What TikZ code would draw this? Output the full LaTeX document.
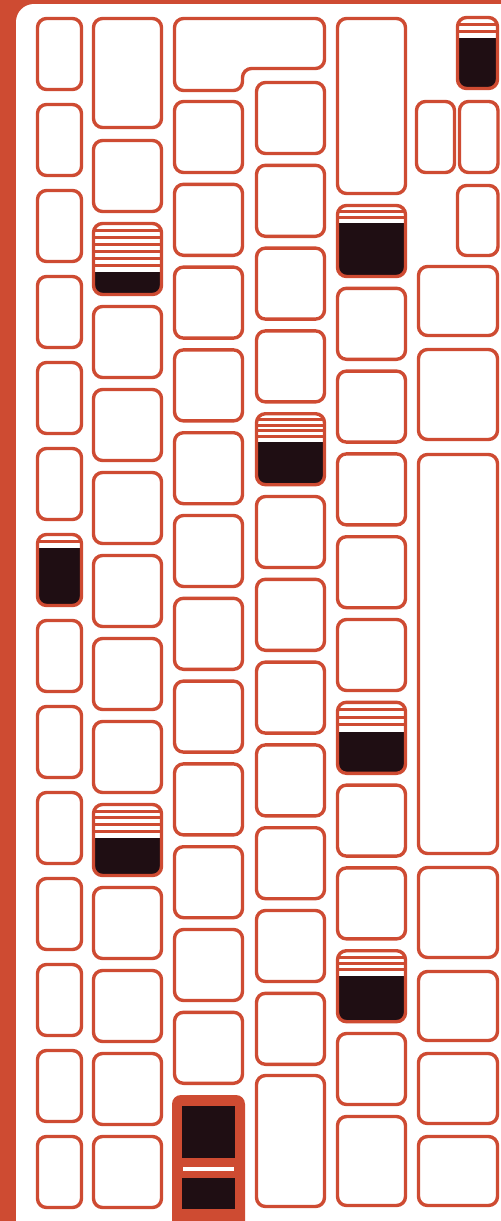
\documentclass[tikz,border=0pt]{standalone}
\usepackage{tikz}

\definecolor{keyorange}{RGB}{206,75,50}
\definecolor{keydark}{RGB}{31,14,19}

\tikzset{
  keycap/.style={draw=keyorange,line width=1.7pt,rounded corners=4.5pt},
  stripe/.style={draw=keyorange,line width=1.5pt}
}

% x1,y1,x2,y2,start of dark part,number of stripes
\newcommand{\darkkey}[6]{%
  \begin{scope}
    \clip[rounded corners=4.5pt] (#1,#2) rectangle (#3,#4);
    \fill[keydark] (#1,#5) rectangle (#3,#4);
    \foreach \k in {1,...,#6}
      \draw[stripe] (#1,{#2+\k*(#5-#2)/(#6+1)}) -- (#3,{#2+\k*(#5-#2)/(#6+1)});
  \end{scope}
  \draw[keycap] (#1,#2) rectangle (#3,#4);
}

\begin{document}
\begin{tikzpicture}[x=0.5pt,y=-0.5pt]
  \useasboundingbox (0,0) rectangle (501,1221);
  \clip (0,0) rectangle (501,1221);
  \fill[keyorange] (0,0) rectangle (501,1221);
  \fill[white,rounded corners=9pt] (16,1260) -- (16,4) -- (540,4) -- (540,1260) -- cycle;

  % column 1
  \foreach \i in {0,...,5,7,8,...,13}
    \draw[keycap] (37.5,{18.5+86*\i}) rectangle (81.5,{89.5+86*\i});
  \darkkey{37.5}{534.5}{81.5}{605.5}{548}{1}

  % column 2
  \draw[keycap] (93.5,18.5) rectangle (161.5,127.5);
  \foreach \i in {0,2,3,...,7,9,10,...,12}
    \draw[keycap] (93.5,{140.5+83*\i}) rectangle (161.5,{211.5+83*\i});
  \darkkey{93.5}{223.5}{161.5}{294.5}{272}{6}
  \darkkey{93.5}{804.5}{161.5}{875.5}{838}{4}

  % column 3
  \draw[keycap] (174.5,18.5) -- (324.5,18.5) -- (324.5,68.5) -- (242.5,68.5)
    -- (242.5,90.5) -- (174.5,90.5) -- cycle;
  \foreach \i in {0,...,11}
    \draw[keycap] (174.5,{101.5+82.8*\i}) rectangle (242.5,{172.5+82.8*\i});
  \fill[keyorange,rounded corners=4.5pt] (172,1240) -- (172,1095) -- (245,1095) -- (245,1240) -- cycle;
  \fill[keydark] (182,1106) rectangle (235,1158);
  \fill[white] (183,1167) rectangle (234,1171);
  \fill[keydark] (182,1178) rectangle (235,1209);

  % column 4
  \foreach \i in {0,...,3,5,6,...,11}
    \draw[keycap] (256.5,{82.5+82.8*\i}) rectangle (324.5,{153.5+82.8*\i});
  \darkkey{256.5}{413.7}{324.5}{484.7}{442}{4}
  \draw[keycap] (256.5,1075.5) rectangle (324.5,1206.5);

  % column 5
  \draw[keycap] (337.5,18.5) rectangle (405.5,193.5);
  \foreach \i in {1,...,5,7,8,10}
    \draw[keycap] (337.5,{205.5+82.8*\i}) rectangle (405.5,{276.5+82.8*\i});
  \darkkey{337.5}{205.5}{405.5}{276.5}{223}{2}
  \darkkey{337.5}{702.3}{405.5}{773.3}{732}{3}
  \darkkey{337.5}{950.7}{405.5}{1021.7}{976}{3}
  \draw[keycap] (337.5,1116.5) rectangle (405.5,1205.5);

  % column 6
  \darkkey{457.5}{17.5}{497.5}{88.5}{38}{2}
  \draw[keycap] (416.5,101.5) rectangle (454.5,172.5);
  \draw[keycap] (459.5,101.5) rectangle (498,172.5);
  \draw[keycap] (457.5,185.5) rectangle (498,255.5);
  \draw[keycap] (418.5,266.5) rectangle (497.5,335.5);
  \draw[keycap] (418.5,349.5) rectangle (497.5,439.5);
  \draw[keycap] (418.5,454.5) rectangle (497.5,853.5);
  \draw[keycap] (418.5,867.5) rectangle (497.5,957.5);
  \draw[keycap] (418.5,971.5) rectangle (497.5,1040.5);
  \draw[keycap] (418.5,1053.5) rectangle (497.5,1123.5);
  \draw[keycap] (418.5,1136.5) rectangle (497.5,1205.5);
\end{tikzpicture}
\end{document}
